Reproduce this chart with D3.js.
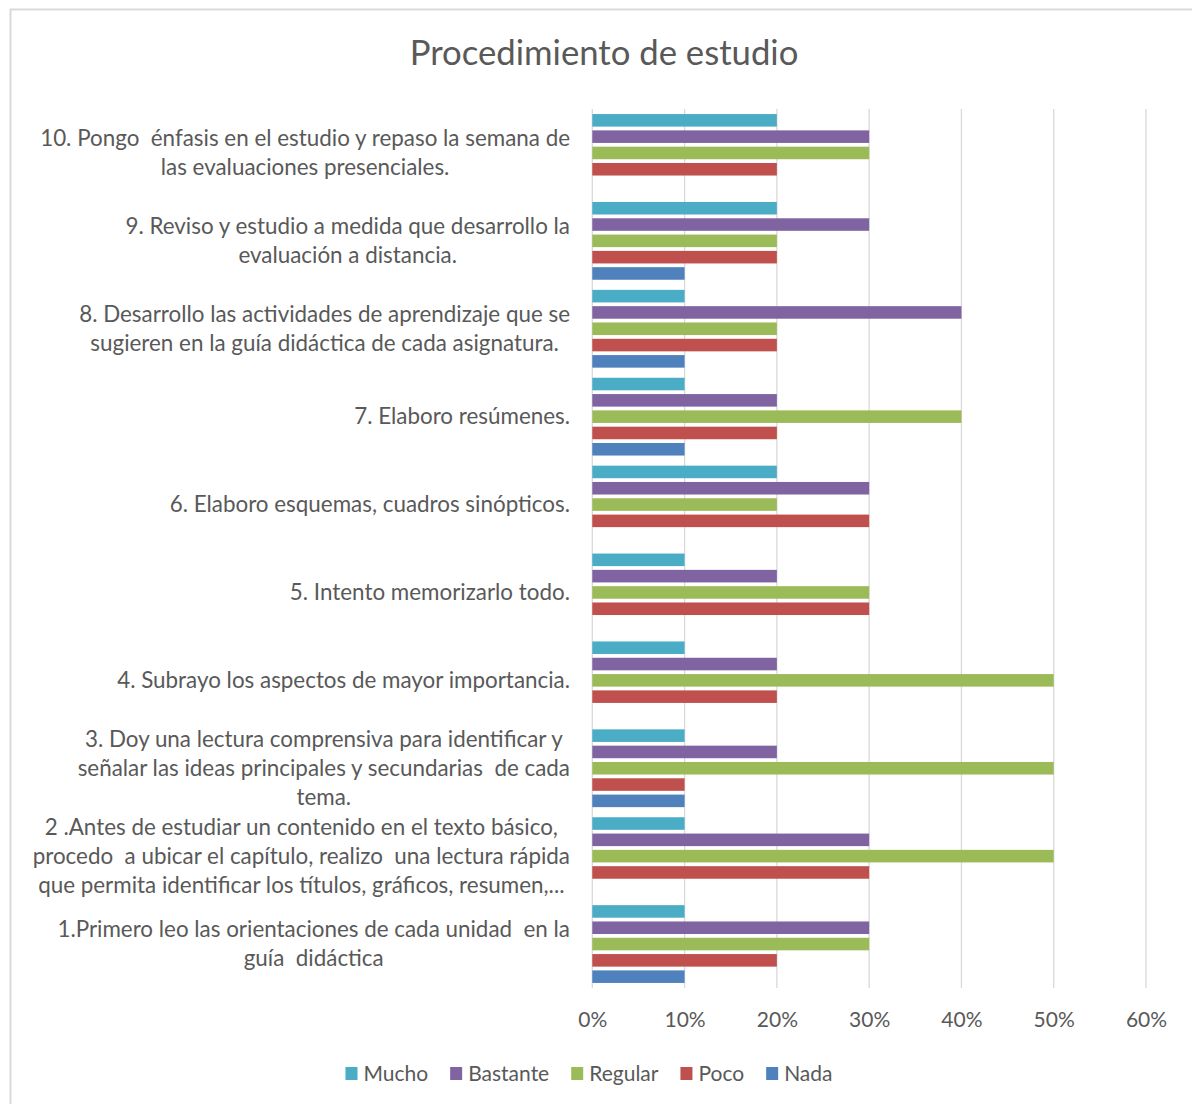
<!DOCTYPE html>
<html>
<head>
<meta charset="utf-8">
<script src="https://cdn.jsdelivr.net/npm/d3@7"></script>
<style>
  body { margin: 0; background: #fff; }
  svg { font-family: Lato, "Open Sans", sans-serif; }
  text { white-space: pre; }
</style>
</head>
<body>
<div id="chart"></div>
<script>
// item labels (bottom to top), each split into its printed lines
const items = [
  ["1.Primero leo las orientaciones de cada unidad  en la", "guía  didáctica"],
  ["2 .Antes de estudiar un contenido en el texto básico,", "procedo  a ubicar el capítulo, realizo  una lectura rápida", "que permita identificar los títulos, gráficos, resumen,..."],
  ["3. Doy una lectura comprensiva para identificar y", "señalar las ideas principales y secundarias  de cada", "tema."],
  ["4. Subrayo los aspectos de mayor importancia."],
  ["5. Intento memorizarlo todo."],
  ["6. Elaboro esquemas, cuadros sinópticos."],
  ["7. Elaboro resúmenes."],
  ["8. Desarrollo las actividades de aprendizaje que se", "sugieren en la guía didáctica de cada asignatura."],
  ["9. Reviso y estudio a medida que desarrollo la", "evaluación a distancia."],
  ["10. Pongo  énfasis en el estudio y repaso la semana de", "las evaluaciones presenciales."]
];

const seriesNames = ["Mucho", "Bastante", "Regular", "Poco", "Nada"];
const seriesColors = ["#4BACC6", "#8064A2", "#9BBB59", "#C0504D", "#4F81BD"];

// percent per item, items 1..10
const mucho    = [10, 10, 10, 10, 10, 20, 10, 10, 20, 20];
const bastante = [30, 30, 20, 20, 20, 30, 20, 40, 30, 30];
const regular  = [30, 50, 50, 50, 30, 20, 40, 20, 20, 30];
const poco     = [20, 30, 10, 20, 30, 30, 20, 20, 20, 20];
const nada     = [10,  0, 10,  0,  0,  0, 10, 10, 10,  0];

const xTicks = [0, 10, 20, 30, 40, 50, 60];

const seriesValues = [mucho, bastante, regular, poco, nada];
const rows = items.map((lines, i) => ({
  id: i + 1,
  lines,
  values: seriesNames.map((s, k) => ({ key: s, color: seriesColors[k], value: seriesValues[k][i] }))
}));

const W = 1192, H = 1104;
const plot = { left: 592.3, right: 1146, top: 109, bottom: 988 };
const textColor = "#595959";

const svg = d3.select("#chart").append("svg")
  .attr("width", W).attr("height", H);

// chart frame (only top/left visible in the crop)
svg.append("rect")
  .attr("x", 10.5).attr("y", 9.5)
  .attr("width", W + 10).attr("height", H + 10)
  .attr("fill", "#fff")
  .attr("stroke", "#D9D9D9").attr("stroke-width", 2);

svg.append("text")
  .attr("x", 604).attr("y", 65)
  .attr("text-anchor", "middle")
  .attr("fill", textColor)
  .attr("font-size", 34.7)
  .text("Procedimiento de estudio");

const x = d3.scaleLinear().domain([0, 60]).range([plot.left, plot.right]);
const y0 = d3.scaleBand()
  .domain(rows.map(d => d.id).reverse())
  .range([plot.top, plot.bottom]);
const y1 = d3.scaleBand()
  .domain(seriesNames)
  .range([0, y0.bandwidth()])
  .paddingInner(0.23)
  .paddingOuter(0.31);

// gridlines
svg.append("g").selectAll("line")
  .data(xTicks)
  .join("line")
  .attr("x1", d => x(d)).attr("x2", d => x(d))
  .attr("y1", plot.top).attr("y2", plot.bottom)
  .attr("stroke", "#D9D9D9").attr("stroke-width", 1.3);

// x axis labels
const xAxis = svg.append("g")
  .attr("transform", `translate(0,${plot.bottom})`)
  .call(d3.axisBottom(x).tickValues(xTicks).tickFormat(d => d + "%").tickSize(0).tickPadding(24));
xAxis.select(".domain").remove();
xAxis.selectAll("text")
  .attr("fill", textColor)
  .attr("font-size", 21)
  .attr("font-family", "Lato, 'Open Sans', sans-serif");

// bars
const groups = svg.append("g").selectAll("g")
  .data(rows)
  .join("g")
  .attr("transform", d => `translate(0,${y0(d.id)})`);

groups.selectAll("rect")
  .data(d => d.values.filter(v => v.value > 0))
  .join("rect")
  .attr("x", x(0))
  .attr("y", d => y1(d.key))
  .attr("width", d => x(d.value) - x(0))
  .attr("height", y1.bandwidth())
  .attr("fill", d => d.color);

// category labels: multi-line, centered block right-aligned at 570
const lineH = 29;
const labelRight = 570;
const labels = svg.append("g")
  .attr("fill", textColor)
  .attr("font-size", 22.4)
  .selectAll("g")
  .data(rows)
  .join("g");

labels.each(function (d) {
  const g = d3.select(this);
  const cy = y0(d.id) + y0.bandwidth() / 2;
  const n = d.lines.length;
  const ts = g.selectAll("text")
    .data(d.lines)
    .join("text")
    .attr("y", (t, i) => cy + (i - (n - 1) / 2) * lineH)
    .attr("dy", "0.35em")
    .attr("text-anchor", "middle")
    .text(t => t);
  let maxW = 0;
  ts.each(function () { maxW = Math.max(maxW, this.getComputedTextLength()); });
  ts.attr("x", labelRight - maxW / 2);
});

// legend
const legend = svg.append("g")
  .attr("transform", "translate(0,1073.5)");
const items2 = legend.selectAll("g")
  .data(seriesNames)
  .join("g");
items2.append("rect")
  .attr("x", 0).attr("y", -6.5)
  .attr("width", 12).attr("height", 13)
  .attr("fill", (d, i) => seriesColors[i]);
items2.append("text")
  .attr("x", 18).attr("dy", "0.35em")
  .attr("fill", textColor)
  .attr("font-size", 21)
  .text(d => d);
let cx = 0;
const widths = [];
items2.each(function () {
  const w = 18 + d3.select(this).select("text").node().getComputedTextLength();
  widths.push(w);
});
const total = d3.sum(widths) + 22 * (widths.length - 1);
cx = 589 - total / 2;
items2.attr("transform", (d, i) => {
  const t = `translate(${cx},0)`;
  cx += widths[i] + 22;
  return t;
});
</script>
</body>
</html>
